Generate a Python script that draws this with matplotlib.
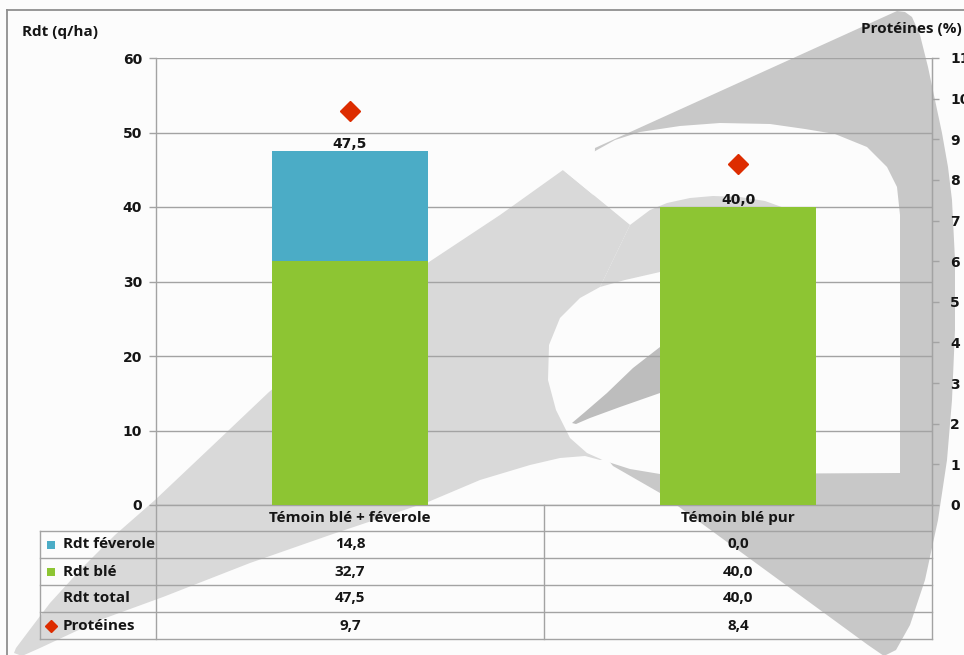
import matplotlib
matplotlib.use("Agg")
import matplotlib.pyplot as plt
from matplotlib.patches import Polygon, Rectangle
from matplotlib.lines import Line2D
from matplotlib.transforms import blended_transform_factory

# ---- data ----
categories = ["Témoin blé + féverole", "Témoin blé pur"]
rdt_feverole = [14.8, 0.0]
rdt_ble = [32.7, 40.0]
rdt_total = [47.5, 40.0]
proteines = [9.7, 8.4]
row_labels = ["Rdt féverole", "Rdt blé", "Rdt total", "Protéines"]
left_ticks = [0, 10, 20, 30, 40, 50, 60]
right_ticks = list(range(0, 12))

# ---- style ----
BLUE = "#4bacc6"
GREEN = "#8dc533"
RED = "#dd2c00"
GRID = "#a3a3a3"
BG = "#fcfcfc"
LIGHT = "#d9d9d9"
DARK = "#c8c8c8"
SWOOSH = "#bdbdbd"
INK = "#151515"
NUM_FONT = "DejaVu Sans"
TXT_FONT = "Open Sans"

W, H = 964, 655
fig = plt.figure(figsize=(W / 100, H / 100), dpi=100, facecolor=BG)


def fx(x):
    return x / W


def fy(y):
    return 1 - y / H


def pts(seq):
    return [(fx(x), fy(y)) for x, y in seq]


def add_shape(seq, color, z):
    fig.add_artist(Polygon(pts(seq), closed=True, facecolor=color,
                           edgecolor="none", transform=fig.transFigure,
                           zorder=z))


# ---- background logo ----
dark_wing = [(595, 148), (897, 11), (905, 12), (912, 17), (920, 35),
             (928, 67), (935, 100), (942, 133), (948, 167), (952, 200),
             (955, 260), (955, 330), (952, 400), (947, 460), (938, 520),
             (925, 580), (910, 625), (896, 650), (884, 656), (868, 645),
             (660, 493), (613, 466), (600, 450), (590, 300)]
leaf = [(14, 653), (16, 648), (28, 632), (50, 603), (82, 568), (115, 535),
        (155, 500), (210, 448), (269, 392), (350, 325), (429, 262),
        (500, 215), (563, 170), (630, 225), (645, 300), (620, 455),
        (600, 460), (585, 456), (560, 458), (530, 465), (480, 480),
        (428, 502), (330, 535), (250, 563), (163, 597), (100, 620),
        (40, 648), (22, 656)]
letter = [(597, 150), (615, 140), (640, 132), (680, 126), (720, 123),
          (770, 124), (805, 129), (835, 134), (867, 147), (887, 167),
          (897, 187), (900, 215), (900, 250), (900, 473), (700, 474),
          (660, 474), (630, 469), (605, 461), (587, 453), (570, 438),
          (556, 410), (548, 380), (549, 345), (560, 318), (580, 298),
          (600, 287), (630, 225), (563, 170)]
counter = [(630, 225), (650, 210), (667, 203), (690, 198), (713, 196),
           (740, 197), (765, 201), (790, 210), (808, 228), (812, 250),
           (800, 264), (760, 268), (700, 269), (660, 272), (625, 280),
           (600, 287)]
swoosh = [(572, 423), (585, 412), (607, 393), (633, 368), (660, 347),
          (700, 325), (725, 316), (725, 366), (660, 393), (620, 407),
          (590, 418), (576, 424)]
add_shape(dark_wing, DARK, -6)
add_shape(leaf, LIGHT, -5)
add_shape(letter, BG, -4)
add_shape(counter, LIGHT, -3)
add_shape(swoosh, SWOOSH, -2)

# outer frame
fig.add_artist(Line2D([fx(7), fx(7)], [fy(10), fy(660)], color="#8f8f8f",
                      lw=1.3, transform=fig.transFigure, zorder=1))
fig.add_artist(Line2D([fx(7), fx(970)], [fy(10), fy(10)], color="#8f8f8f",
                      lw=1.3, transform=fig.transFigure, zorder=1))

# ---- main axes ----
ax = fig.add_axes([fx(156), fy(505), fx(932) - fx(156), fy(58) - fy(505)])
ax.set_facecolor("none")
x = list(range(len(categories)))
ax.bar(x, rdt_ble, width=0.4, color=GREEN, zorder=3)
ax.bar(x, rdt_feverole, width=0.4, bottom=rdt_ble, color=BLUE, zorder=3)
for xi, tot in zip(x, rdt_total):
    ax.annotate(f"{tot:.1f}".replace(".", ","), (xi, tot),
                xytext=(0, 2.5), textcoords="offset points", ha="center",
                va="baseline", fontsize=10, fontweight="bold",
                family=NUM_FONT, color=INK, zorder=6)

ax.set_xlim(-0.5, 1.5)
ax.set_ylim(0, 60)
ax.set_yticks(left_ticks)
ax.yaxis.grid(True, color=GRID, lw=1)
ax.set_axisbelow(True)
ax.tick_params(axis="x", length=0, labelbottom=False)
ax.tick_params(axis="y", length=5, width=1, color=GRID, pad=5,
               labelsize=10, labelcolor=INK)
for lab in ax.get_yticklabels():
    lab.set_fontweight("bold")
    lab.set_family(NUM_FONT)
ax.spines["top"].set_visible(False)
for s in ("left", "bottom", "right"):
    ax.spines[s].set_color(GRID)
    ax.spines[s].set_linewidth(1)

ax2 = ax.twinx()
ax2.set_ylim(0, 11)
ax2.set_yticks(right_ticks)
ax2.plot(x, proteines, linestyle="none", marker="D", ms=10, color=RED,
         zorder=5)
ax2.tick_params(axis="y", length=5, width=1, color=GRID, pad=8,
                labelsize=10, labelcolor=INK)
for lab in ax2.get_yticklabels():
    lab.set_fontweight("bold")
    lab.set_family(NUM_FONT)
for s in ("top", "left", "bottom"):
    ax2.spines[s].set_visible(False)
ax2.spines["right"].set_color(GRID)

# axis titles
fig.text(fx(22), fy(32), "Rdt (q/ha)", ha="left", va="center",
         fontsize=11, fontweight="bold", family=TXT_FONT, color=INK)
fig.text(fx(962), fy(29), "Protéines (%)", ha="right", va="center",
         fontsize=11, fontweight="bold", family=TXT_FONT, color=INK)

# ---- data table ----
bt = blended_transform_factory(ax.transData, fig.transFigure)
row_y = [531, 558, 585, 612, 639]
for y in row_y:
    fig.add_artist(Line2D([fx(40), fx(932)], [fy(y), fy(y)], color=GRID,
                          lw=1, transform=fig.transFigure, zorder=2))
fig.add_artist(Line2D([fx(40), fx(40)], [fy(531), fy(639)], color=GRID,
                      lw=1, transform=fig.transFigure, zorder=2))
for xd in (-0.5, 0.5, 1.5):
    fig.add_artist(Line2D([xd, xd], [fy(505), fy(639)], color=GRID, lw=1,
                          transform=bt, zorder=2))

for xi, cat in zip(x, categories):
    fig.text(xi, fy(518), cat, transform=bt, ha="center", va="center",
             fontsize=11, fontweight="bold", family=TXT_FONT, color=INK)

table_rows = [rdt_feverole, rdt_ble, rdt_total, proteines]
for r, (lab, vals) in enumerate(zip(row_labels, table_rows)):
    yc = (row_y[r] + row_y[r + 1]) / 2
    fig.text(fx(63), fy(yc), lab, ha="left", va="center", fontsize=11,
             fontweight="bold", family=TXT_FONT, color=INK)
    for xi, v in zip(x, vals):
        fig.text(xi, fy(yc), f"{v:.1f}".replace(".", ","), transform=bt,
                 ha="center", va="center", fontsize=11, fontweight="bold",
                 family=TXT_FONT, color=INK)

# legend keys inside the table
for r, col in ((0, BLUE), (1, GREEN)):
    yc = (row_y[r] + row_y[r + 1]) / 2
    fig.add_artist(Rectangle((fx(47), fy(yc + 4)), fx(8), 8 / H,
                             facecolor=col, edgecolor="none",
                             transform=fig.transFigure, zorder=3))
fig.add_artist(Line2D([fx(51)], [fy(625.5)], marker="D", ms=6, color=RED,
                      linestyle="none", transform=fig.transFigure, zorder=3))

fig.savefig("out.png", dpi=100, facecolor=BG)
